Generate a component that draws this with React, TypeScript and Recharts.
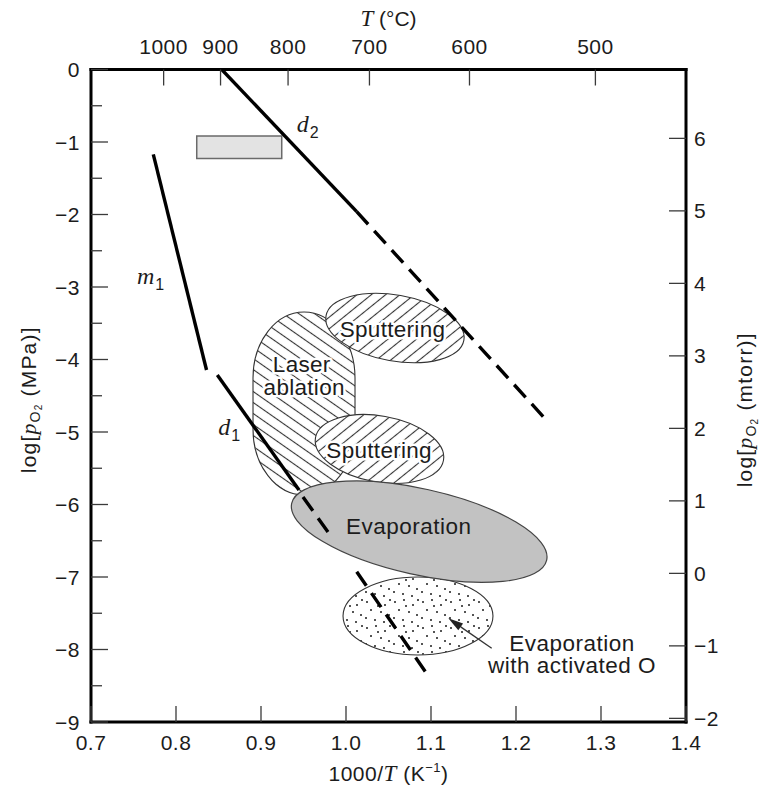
import React from 'react';
import { ComposedChart, XAxis, YAxis, Scatter, ReferenceArea } from 'recharts';

const SANS = '"Liberation Sans", Arial, Helvetica, sans-serif';
const SERIF = '"Liberation Serif", "Times New Roman", serif';
const INK = '#1c1c1c';

// ---------- axes ----------
const xDomain = [0.7, 1.4];
const yDomain = [-9, 0];
const rightDomain = [-2.05, 6.95];
const bottomTicks = [0.7, 0.8, 0.9, 1.0, 1.1, 1.2, 1.3, 1.4];
const leftTicks = [-9, -8.5, -8, -7.5, -7, -6.5, -6, -5.5, -5, -4.5, -4, -3.5, -3, -2.5, -2, -1.5, -1, -0.5, 0];
const rightTicks = [-2, -1, 0, 1, 2, 3, 4, 5, 6];
const topCelsius = [1000, 900, 800, 700, 600, 500];
const topTicks = topCelsius.map((c) => 1000 / (c + 273.15));

// ---------- lines ----------
const m1Line = [{ x: 0.7733, y: -1.17 }, { x: 0.8359, y: -4.145 }];
const d1Solid = [{ x: 0.8486, y: -4.214 }, { x: 0.9447, y: -5.8 }];
const d1DashUpper = [{ x: 0.9494, y: -5.897 }, { x: 0.9788, y: -6.379 }];
const d1DashLower = [{ x: 1.0126, y: -6.927 }, { x: 1.0965, y: -8.359 }];
const d2Solid = [{ x: 0.8538, y: 0 }, { x: 1.0126, y: -1.961 }];
const d2Dash = [{ x: 1.0126, y: -1.961 }, { x: 1.2321, y: -4.789 }];

// ---------- regions (centre, end of major axis, end of minor axis) ----------
const laserBox = [{ x: 0.8906, y: -3.345 }, { x: 1.0106, y: -5.869 }];
const sputterUpper = [{ x: 1.0576, y: -3.566 }, { x: 1.1387, y: -3.734 }, { x: 1.0509, y: -4.014 }];
const sputterLower = [{ x: 1.0394, y: -5.234 }, { x: 1.1147, y: -5.39 }, { x: 1.0327, y: -5.683 }];
const evaporation = [{ x: 1.0861, y: -6.375 }, { x: 1.2361, y: -6.766 }, { x: 1.0752, y: -6.954 }];
const activatedO = [{ x: 1.0847, y: -7.538 }, { x: 1.1729, y: -7.538 }, { x: 1.0847, y: -8.076 }];
const arrowPts = [{ x: 1.1714, y: -7.983 }, { x: 1.1204, y: -7.57 }];
const boxX = [0.8244, 0.9244];
const boxY = [-1.228, -0.917];

// ---------- labels ----------
const regionLabels = [
  { x: 1.0547, y: -3.686, text: 'Sputtering' },
  { x: 0.9479, y: -4.168, text: 'Laser' },
  { x: 0.9508, y: -4.49, text: 'ablation' },
  { x: 1.039, y: -5.363, text: 'Sputtering' },
];
const evapLabel = [{ x: 1.0739, y: -6.407, text: 'Evaporation' }];
const noteLabels = [
  { x: 1.266, y: -8.017, text: 'Evaporation' },
  { x: 1.266, y: -8.328, text: 'with activated O' },
];
const symbolLabels = [
  { x: 0.942, y: -0.857, sym: 'd', sub: '2' },
  { x: 0.7541, y: -2.959, sym: 'm', sub: '1' },
  { x: 0.8498, y: -5.041, sym: 'd', sub: '1' },
];

const dotSpots = [
  [3, 4], [12, 2], [21, 7], [7, 12], [17, 14], [25, 17], [2, 20], [11, 22], [20, 24], [26, 2], [14, 8],
];

const fmtSigned = (v: number) => (v < 0 ? '\u2212' + Math.abs(v) : String(v));
const tickStroke = { stroke: '#3a3a3a', strokeWidth: 1.3 };
const tickText = { fontFamily: SANS, fontSize: 21, fill: INK, letterSpacing: 0.5 };

const BottomTick = (p: any) => (
  <g>
    <line x1={p.x} x2={p.x} y1={p.y} y2={p.y - 16} {...tickStroke} />
    <text x={p.x} y={p.y + 27.5} textAnchor="middle" {...tickText}>
      {Number(p.payload.value).toFixed(1)}
    </text>
  </g>
);
const TopTick = (p: any) => (
  <g>
    <line x1={p.x} x2={p.x} y1={p.y} y2={p.y + 16} {...tickStroke} />
    <text x={p.x} y={p.y - 15.5} textAnchor="middle" {...tickText}>
      {Math.round(1000 / p.payload.value - 273.15)}
    </text>
  </g>
);
const LeftTick = (p: any) => {
  const v = p.payload.value;
  const major = Number.isInteger(v);
  return (
    <g>
      <line x1={p.x} x2={p.x + (major ? 17 : 11)} y1={p.y} y2={p.y} {...tickStroke} />
      {major && (
        <text x={p.x - 11} y={p.y + 7.5} textAnchor="end" {...tickText}>
          {fmtSigned(v)}
        </text>
      )}
    </g>
  );
};
const RightTick = (p: any) => (
  <g>
    <line x1={p.x} x2={p.x - 17} y1={p.y} y2={p.y} {...tickStroke} />
    <text x={p.x + 8} y={p.y + 7.5} textAnchor="start" {...tickText}>
      {fmtSigned(p.payload.value)}
    </text>
  </g>
);

const titleStyle = { fontFamily: SANS, fontSize: 21, fill: INK };

const TopTitle = (p: any) => {
  const vb = p.viewBox;
  return (
    <text x={vb.x + vb.width / 2} y={vb.y - 13.5} textAnchor="middle" {...titleStyle}>
      <tspan fontFamily={SERIF} fontStyle="italic" fontSize={23}>T</tspan>
      <tspan> (°C)</tspan>
    </text>
  );
};
const BottomTitle = (p: any) => {
  const vb = p.viewBox;
  return (
    <text x={vb.x + vb.width / 2} y={vb.y + 59} textAnchor="middle" {...titleStyle} letterSpacing={0.5}>
      <tspan>1000/</tspan>
      <tspan fontFamily={SERIF} fontStyle="italic" fontSize={23}>T</tspan>
      <tspan> (K</tspan>
      <tspan fontSize={13} dy={-9}>{'\u22121'}</tspan>
      <tspan dy={9}>)</tspan>
    </text>
  );
};
const SideTitle = (unit: string, dxFromBox: number, dyCenter: number) => (p: any) => {
  const vb = p.viewBox;
  const x = vb.x + dxFromBox;
  const y = vb.y + vb.height / 2 + dyCenter;
  return (
    <text x={x} y={y} transform={`rotate(-90 ${x} ${y})`} textAnchor="middle" {...titleStyle} letterSpacing={1.2}>
      <tspan>log[</tspan>
      <tspan fontFamily={SERIF} fontStyle="italic" fontSize={22}>p</tspan>
      <tspan fontSize={14} dy={4}>O</tspan>
      <tspan fontSize={10} dy={2}>2</tspan>
      <tspan dy={-6}>{` (${unit})]`}</tspan>
    </text>
  );
};

const Defs = () => (
  <defs>
    <pattern id="hatchLaser" patternUnits="userSpaceOnUse" width={9} height={10} patternTransform="rotate(-55)">
      <rect width={9} height={10} fill="#fff" />
      <line x1={4.5} y1={0} x2={4.5} y2={10} stroke="#333" strokeWidth={1.1} />
    </pattern>
    <pattern id="hatchSputter" patternUnits="userSpaceOnUse" width={9} height={10} patternTransform="rotate(41)">
      <rect width={9} height={10} fill="#fff" />
      <line x1={4.5} y1={0} x2={4.5} y2={10} stroke="#333" strokeWidth={1.1} />
    </pattern>
    <pattern id="dots" patternUnits="userSpaceOnUse" width={28} height={26}>
      <rect width={28} height={26} fill="#fff" />
      {dotSpots.map(([a, b], i) => (
        <circle key={i} cx={a} cy={b} r={1} fill={INK} />
      ))}
    </pattern>
  </defs>
);

const ellipseFrom = (fill: string, stroke: string, sw: number) => (p: any) => {
  const pts = p.points;
  if (!pts || pts.length < 3) return <g />;
  const [c, a, b] = pts;
  const rx = Math.hypot(a.x - c.x, a.y - c.y);
  const ry = Math.hypot(b.x - c.x, b.y - c.y);
  const ang = (Math.atan2(a.y - c.y, a.x - c.x) * 180) / Math.PI;
  return (
    <ellipse
      cx={c.x}
      cy={c.y}
      rx={rx}
      ry={ry}
      transform={`rotate(${ang} ${c.x} ${c.y})`}
      fill={fill}
      stroke={stroke}
      strokeWidth={sw}
    />
  );
};

const laserShape = (p: any) => {
  const pts = p.points;
  if (!pts || pts.length < 2) return <g />;
  const [a, b] = pts;
  const x = Math.min(a.x, b.x);
  const y = Math.min(a.y, b.y);
  const w = Math.abs(b.x - a.x);
  const h = Math.abs(b.y - a.y);
  return (
    <g>
      <Defs />
      <rect x={x} y={y} width={w} height={h} rx={w / 2} ry={h * 0.36} fill="url(#hatchLaser)" stroke="#333" strokeWidth={1.1} />
    </g>
  );
};

const arrowShape = (p: any) => {
  const pts = p.points;
  if (!pts || pts.length < 2) return <g />;
  const [t, h] = pts;
  const len = Math.hypot(h.x - t.x, h.y - t.y);
  const ux = (h.x - t.x) / len;
  const uy = (h.y - t.y) / len;
  const hl = 15;
  const hw = 4.2;
  const bx = h.x - ux * hl;
  const by = h.y - uy * hl;
  return (
    <g>
      <line x1={t.x} y1={t.y} x2={bx} y2={by} stroke="#333" strokeWidth={1.3} />
      <polygon
        points={`${h.x},${h.y} ${bx - uy * hw},${by + ux * hw} ${bx + uy * hw},${by - ux * hw}`}
        fill="#222"
      />
    </g>
  );
};

const noDot = () => <g />;

const RegionText = (p: any) => (
  <text
    x={p.cx}
    y={p.cy}
    textAnchor="middle"
    fontFamily={SANS}
    fontSize={22.5}
    fill={INK}
    stroke="#fff"
    strokeWidth={5}
    strokeLinejoin="round"
    paintOrder="stroke"
    letterSpacing={0.3}
  >
    {p.payload.text}
  </text>
);
const PlainText = (p: any) => (
  <text x={p.cx} y={p.cy} textAnchor="middle" fontFamily={SANS} fontSize={22.5} fill={INK} letterSpacing={0.5}>
    {p.payload.text}
  </text>
);
const SymbolText = (p: any) => (
  <text x={p.cx} y={p.cy} fontFamily={SERIF} fontStyle="italic" fontSize={24} fill={INK}>
    {p.payload.sym}
    <tspan fontFamily={SANS} fontStyle="normal" fontSize={16} dx={1} dy={6}>
      {p.payload.sub}
    </tspan>
  </text>
);

const lineSolid = { stroke: '#000', strokeWidth: 3.4 };
const lineDash = { stroke: '#000', strokeWidth: 3.4, strokeDasharray: '17 9' };

const ax = { xAxisId: 'b', yAxisId: 'l', isAnimationActive: false } as const;

export default function App() {
  return (
    <div style={{ position: 'absolute', left: 0, top: 0, background: '#fff' }}>
      <ComposedChart width={764} height={789} margin={{ top: 39.5, right: 18, bottom: 37, left: 31 }}>
        <XAxis
          xAxisId="b"
          dataKey="x"
          type="number"
          orientation="bottom"
          domain={xDomain}
          ticks={bottomTicks}
          allowDataOverflow
          interval={0}
          height={30}
          tickSize={0}
          tickMargin={0}
          tick={BottomTick}
          tickLine={false}
          axisLine={{ stroke: '#000', strokeWidth: 3, strokeLinecap: 'square' }}
          label={BottomTitle}
        />
        <XAxis
          xAxisId="t"
          dataKey="x"
          type="number"
          orientation="top"
          domain={xDomain}
          ticks={topTicks}
          allowDataOverflow
          interval={0}
          height={30}
          tickSize={0}
          tickMargin={0}
          tick={TopTick}
          tickLine={false}
          axisLine={{ stroke: '#000', strokeWidth: 3, strokeLinecap: 'square' }}
          label={TopTitle}
        />
        <YAxis
          yAxisId="l"
          dataKey="y"
          type="number"
          orientation="left"
          domain={yDomain}
          ticks={leftTicks}
          allowDataOverflow
          interval={0}
          width={60}
          tickSize={0}
          tickMargin={0}
          tick={LeftTick}
          tickLine={false}
          axisLine={{ stroke: '#000', strokeWidth: 3, strokeLinecap: 'square' }}
          label={SideTitle('MPa', 5, 4)}
        />
        <YAxis
          yAxisId="r"
          dataKey="y"
          type="number"
          orientation="right"
          domain={rightDomain}
          ticks={rightTicks}
          allowDataOverflow
          interval={0}
          width={60}
          tickSize={0}
          tickMargin={0}
          tick={RightTick}
          tickLine={false}
          axisLine={{ stroke: '#000', strokeWidth: 3, strokeLinecap: 'square' }}
          label={SideTitle('mtorr', 66, 14)}
        />

        <ReferenceArea
          xAxisId="b"
          yAxisId="l"
          x1={boxX[0]}
          x2={boxX[1]}
          y1={boxY[0]}
          y2={boxY[1]}
          fill="#e3e3e3"
          fillOpacity={1}
          stroke="#6a6a6a"
          strokeWidth={1.5}
          ifOverflow="visible"
        />

        <Scatter {...ax} data={laserBox} shape={noDot} line={laserShape} />
        <Scatter {...ax} data={sputterUpper} shape={noDot} line={ellipseFrom('url(#hatchSputter)', '#333', 1.1)} />
        <Scatter {...ax} data={sputterLower} shape={noDot} line={ellipseFrom('url(#hatchSputter)', '#333', 1.1)} />
        <Scatter {...ax} data={activatedO} shape={noDot} line={ellipseFrom('url(#dots)', '#333', 1.1)} />
        <Scatter {...ax} data={evaporation} shape={noDot} line={ellipseFrom('#c2c2c2', '#444', 1.2)} />

        <Scatter {...ax} data={m1Line} shape={noDot} line={lineSolid} />
        <Scatter {...ax} data={d1Solid} shape={noDot} line={lineSolid} />
        <Scatter {...ax} data={d1DashUpper} shape={noDot} line={lineDash} />
        <Scatter {...ax} data={d1DashLower} shape={noDot} line={lineDash} />
        <Scatter {...ax} data={d2Solid} shape={noDot} line={lineSolid} />
        <Scatter {...ax} data={d2Dash} shape={noDot} line={lineDash} />

        <Scatter {...ax} data={arrowPts} shape={noDot} line={arrowShape} />
        <Scatter {...ax} data={regionLabels} shape={RegionText} />
        <Scatter {...ax} data={evapLabel} shape={PlainText} />
        <Scatter {...ax} data={noteLabels} shape={PlainText} />
        <Scatter {...ax} data={symbolLabels} shape={SymbolText} />
      </ComposedChart>
    </div>
  );
}
